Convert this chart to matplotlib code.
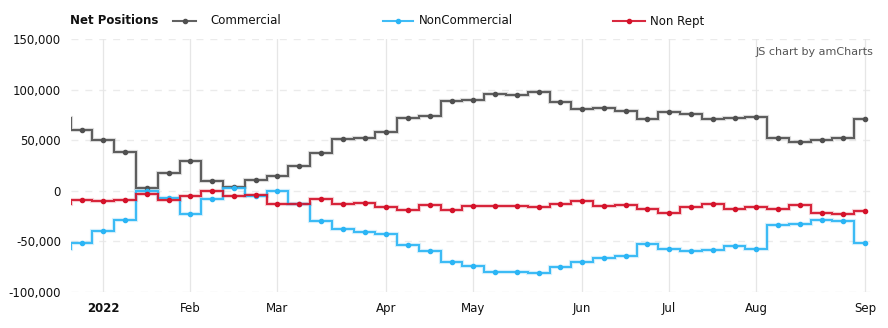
import numpy as np
import matplotlib
matplotlib.use('Agg')
import matplotlib.pyplot as plt
import matplotlib.dates as mdates
from datetime import datetime, timedelta

# weekly report dates (Tuesdays), first one only shows at the left edge
start = datetime(2021, 12, 21)
dates = [start + timedelta(weeks=i) for i in range(38)]

commercial = [72000, 60400, 50200, 37900, 2700, 17500, 29000, 9600, 3300, 10200,
              14200, 25000, 37000, 50800, 51800, 58000, 71600, 73600, 88400, 89400,
              95300, 94300, 97300, 87400, 80500, 81500, 78500, 70600, 77500, 75500,
              70600, 71600, 72600, 51800, 47800, 49800, 51800, 70600]
noncommercial = [-57700, -51200, -39300, -29000, -300, -7200, -23400, -8200, 2700, -5600,
                 -300, -12600, -29400, -37300, -40300, -42300, -53100, -59400, -70000, -73900,
                 -79900, -79900, -80900, -74900, -70600, -66000, -64000, -52800, -57100, -59100,
                 -58100, -54100, -57100, -34000, -33000, -28400, -29400, -51200]
nonrept = [-13200, -9200, -10200, -8600, -2700, -9200, -5600, -300, -5600, -4300,
           -13500, -13500, -8300, -13500, -12500, -16500, -18500, -14500, -18500, -15500,
           -15500, -15500, -16500, -13500, -9600, -15500, -14500, -17500, -21500, -16500,
           -13500, -17500, -16500, -17500, -14500, -21500, -22500, -19500]

series_names = ['Commercial', 'NonCommercial', 'Non Rept']
series_colors = ['#505050', '#2bb5f5', '#d4122a']

month_ticks = [datetime(2022, 1, 4), datetime(2022, 2, 1), datetime(2022, 3, 1),
               datetime(2022, 4, 5), datetime(2022, 5, 3), datetime(2022, 6, 7),
               datetime(2022, 7, 5), datetime(2022, 8, 2), datetime(2022, 9, 6)]
month_labels = ['2022', 'Feb', 'Mar', 'Apr', 'May', 'Jun', 'Jul', 'Aug', 'Sep']
y_ticks = [-100000, -50000, 0, 50000, 100000, 150000]

plt.rcParams['font.family'] = ['DejaVu Sans']

fig = plt.figure(figsize=(8.88, 3.28), dpi=100)
ax = fig.add_axes([70.7 / 888, 1 - 292 / 328, (876 - 70.7) / 888, (292 - 39) / 328])

x = mdates.date2num(dates)
for vals, col in zip([commercial, noncommercial, nonrept], series_colors):
    # light halo under the line
    ax.plot(x, vals, drawstyle='steps-mid', color=col, linewidth=3.0, alpha=0.18,
            solid_joinstyle='miter', zorder=3)
    ax.plot(x, vals, drawstyle='steps-mid', color=col, linewidth=1.5, alpha=0.9,
            solid_joinstyle='miter', zorder=4)
    ax.plot(x[1:], vals[1:], 'o', color=col, markersize=3.0, zorder=5)

xl0 = mdates.date2num(datetime(2021, 12, 24, 12))
xl1 = mdates.date2num(datetime(2022, 9, 9, 12))
ax.set_xlim(xl0, xl1)
ax.set_ylim(-100000, 150000)

# grid
ax.set_yticks(y_ticks)
ax.set_yticklabels([f'{v:,}' for v in y_ticks], fontsize=8.5, color='#111111')
ax.set_xticks(mdates.date2num(month_ticks))
ax.set_xticklabels(month_labels, fontsize=8.5, color='#111111')
ax.get_xticklabels()[0].set_fontweight('bold')
for yv in y_ticks:
    ax.axhline(yv, color='#ebebeb', linewidth=1, linestyle=(0, (5, 5)), zorder=1)
for xv in mdates.date2num(month_ticks):
    ax.axvline(xv, color='#e6e6e6', linewidth=0.9, zorder=1)
ax.tick_params(axis='both', length=0)
ax.tick_params(axis='x', pad=7)
ax.tick_params(axis='y', pad=7)
for s in ax.spines.values():
    s.set_visible(False)

# legend row on top
fig.text(70 / 888, 1 - 21 / 328, 'Net Positions', fontsize=8.5, fontweight='bold',
         va='center', ha='left', color='#111111')
leg_x = [(173, 196, 210), (383, 413, 419), (613, 645, 650)]
for (l0, l1, tx), name, col in zip(leg_x, series_names, series_colors):
    fig.add_artist(plt.Line2D([l0 / 888, l1 / 888], [1 - 21 / 328] * 2, color=col,
                              linewidth=1.5, alpha=0.9))
    fig.add_artist(plt.Line2D([(l0 + l1) / 2 / 888], [1 - 21 / 328], marker='o',
                              markersize=3, color=col))
    fig.text(tx / 888, 1 - 21 / 328, name, fontsize=8.5, va='center', ha='left',
             color='#111111')

fig.text(873 / 888, 1 - 52 / 328, 'JS chart by amCharts', fontsize=8, va='center',
         ha='right', color='#555555')

fig.savefig('out.png', dpi=100)
